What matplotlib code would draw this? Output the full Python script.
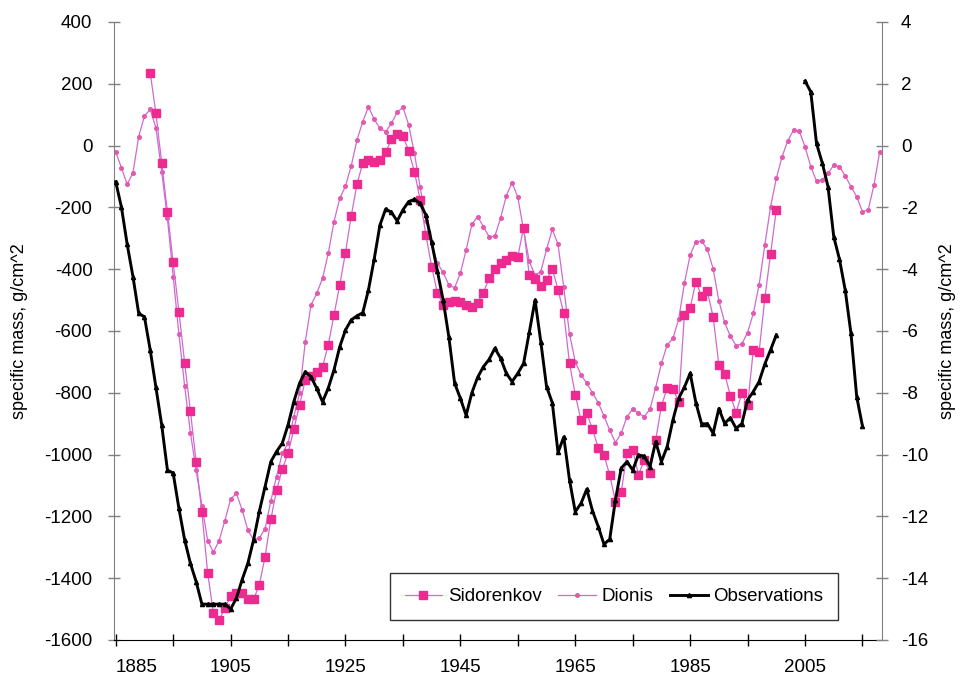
import numpy as np
import matplotlib.pyplot as plt
from matplotlib.ticker import MultipleLocator

plt.rcParams['font.family'] = ['Liberation Sans', 'DejaVu Sans']
plt.rcParams['axes.unicode_minus'] = False

# Dionis, annual 1885-2018, g/cm^2 (left scale)
dionis = [
    -20, -73, -125, -88, 29, 96, 117, 58, -84, -235,
    -424, -610, -778, -929, -1050, -1165, -1278, -1316, -1278, -1214,
    -1145, -1125, -1179, -1244, -1276, -1270, -1240, -1150, -1071, -996,
    -963, -877, -801, -635, -516, -478, -430, -349, -246, -171,
    -131, -65, 18, 77, 126, 85, 56, 45, 72, 108,
    124, 67, -25, -133, -243, -314, -381, -410, -451, -460,
    -413, -338, -255, -230, -262, -295, -293, -235, -162, -120,
    -167, -273, -375, -419, -408, -336, -271, -320, -459, -610,
    -699, -742, -769, -800, -832, -875, -921, -961, -931, -877,
    -853, -866, -877, -853, -783, -705, -645, -624, -562, -446,
    -354, -311, -309, -336, -398, -502, -572, -617, -647, -642,
    -605, -543, -451, -322, -198, -106, -36, 16, 50, 47,
    -4, -68, -115, -111, -90, -63, -68, -98, -133, -165,
    -214, -208, -128, -20,
]
dionis_years = np.arange(1885, 1885 + len(dionis))

# Sidorenkov, annual 1891-2000 (left scale)
sidorenkov = [
    236, 104, -55, -214, -378, -537, -703, -859, -1023, -1187,
    -1382, -1512, -1535, -1497, -1458, -1449, -1449, -1467, -1468, -1422,
    -1330, -1210, -1115, -1047, -996, -918, -840, -758, -745, -733,
    -716, -645, -548, -451, -346, -227, -125, -57, -47, -54,
    -47, -22, 20, 37, 31, -17, -84, -176, -289, -392,
    -476, -516, -505, -502, -505, -516, -521, -508, -476, -430,
    -399, -381, -370, -356, -359, -266, -420, -432, -455, -436,
    -398, -466, -543, -705, -806, -889, -866, -918, -978, -1001,
    -1066, -1152, -1122, -996, -985, -1066, -1018, -1058, -953, -843,
    -784, -787, -829, -548, -526, -440, -488, -472, -554, -709,
    -738, -809, -864, -801, -841, -661, -669, -494, -351, -208,
]
sidorenkov_years = np.arange(1891, 1891 + len(sidorenkov))

# Observations, right scale: 1885-2000, then 2005-2015
obs_early = [
    -1.17, -2.00, -3.20, -4.24, -5.43, -5.54, -6.61, -7.82, -9.04, -10.50,
    -10.60, -11.74, -12.76, -13.52, -14.11, -14.84, -14.84, -14.84, -14.84, -14.84,
    -15.00, -14.65, -14.05, -13.52, -12.76, -11.84, -11.04, -10.23, -9.90, -9.63,
    -9.04, -8.29, -7.69, -7.32, -7.48, -7.86, -8.29, -7.85, -7.26, -6.51,
    -5.97, -5.64, -5.51, -5.41, -4.67, -3.67, -2.57, -2.05, -2.16, -2.44,
    -2.08, -1.81, -1.74, -1.87, -2.25, -3.13, -4.06, -5.00, -6.20, -7.69,
    -8.18, -8.73, -8.00, -7.50, -7.16, -6.92, -6.56, -6.88, -7.37, -7.64,
    -7.37, -7.05, -6.04, -5.00, -6.35, -7.80, -8.32, -9.93, -9.43, -10.82,
    -11.85, -11.58, -11.12, -11.82, -12.33, -12.90, -12.74, -11.46, -10.44, -10.23,
    -10.50, -10.01, -10.05, -10.39, -9.58, -10.23, -9.74, -8.88, -8.18, -7.82,
    -7.37, -8.32, -9.01, -9.00, -9.31, -8.51, -8.99, -8.81, -9.15, -9.00,
    -8.23, -7.96, -7.64, -7.07, -6.61, -6.13,
]
obs_late = [2.09, 1.74, 0.07, -0.56, -1.33, -2.95, -3.68, -4.68, -6.08, -8.13, -9.08]
obs_years = np.arange(1885, 2016)
observations = np.array(obs_early + [np.nan] * 4 + obs_late)

fig = plt.figure(figsize=(9.61, 6.8), dpi=100)
fig.subplots_adjust(left=114 / 961, right=882 / 961, top=1 - 22 / 680, bottom=1 - 640 / 680)
ax = fig.add_subplot(111)
ax2 = ax.twinx()

pink = '#EC2A90'
line_pink = '#CF6AD0'

l_dio, = ax.plot(dionis_years, dionis, color=line_pink, lw=0.9, marker='o', ms=2.6,
                 mfc='#E458B0', mec='#E458B0', label='Dionis', zorder=2)
l_sid, = ax.plot(sidorenkov_years, sidorenkov, color=line_pink, lw=0.9, marker='s', ms=5.8,
                 mfc=pink, mec=pink, label='Sidorenkov', zorder=3)
l_obs, = ax2.plot(obs_years, observations, color='black', lw=2.1, marker='^', ms=3,
                  mfc='black', mec='black', label='Observations', zorder=4)

ax.set_xlim(1884.7, 2018.4)
ax.set_ylim(-1600, 400)
ax2.set_ylim(-16, 4)
ax.yaxis.set_major_locator(MultipleLocator(200))
ax2.yaxis.set_major_locator(MultipleLocator(2))
ax.set_xticks(np.arange(1885, 2019, 10))
ax.set_xticklabels([str(y) if (y - 1885) % 20 == 0 else '' for y in range(1885, 2019, 10)])

for a in (ax, ax2):
    a.spines['top'].set_visible(False)
    a.tick_params(labelsize=13.5, direction='inout', length=9, width=1, pad=10)
ax.spines['left'].set_color('#808080')
ax2.spines['right'].set_color('#808080')
ax2.spines['left'].set_visible(False)
ax2.spines['bottom'].set_visible(False)
ax.spines['right'].set_visible(False)
ax.tick_params(axis='y', colors='#808080', labelcolor='black', pad=11)
ax2.tick_params(axis='y', colors='#808080', labelcolor='black', pad=9)
ax.tick_params(axis='x', pad=9)
# first year label starts at the axis instead of centring on it
ax.get_xticklabels()[0].set_horizontalalignment('left')

ax.set_ylabel('specific mass, g/cm^2', fontsize=13, labelpad=12)
ax2.set_ylabel('specific mass, g/cm^2', fontsize=13, rotation=90, labelpad=8)

leg = ax2.legend(handles=[l_sid, l_dio, l_obs], ncol=3, loc='lower left',
                 bbox_to_anchor=(0.359, 0.032, 0.584, 0.109), mode='expand',
                 fontsize=13.5, frameon=True, fancybox=False, edgecolor='black',
                 handlelength=2.0, handletextpad=0.3, columnspacing=0.8,
                 borderaxespad=0, borderpad=0.8)
leg.get_frame().set_linewidth(1.0)

fig.savefig('out.png', dpi=100)
